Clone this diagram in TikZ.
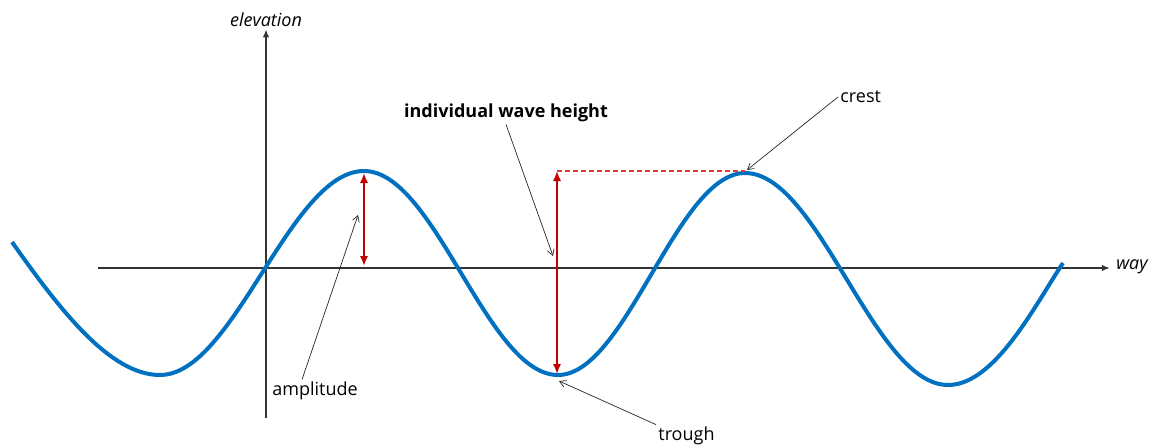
\documentclass[tikz,border=0pt]{standalone}
\usepackage{fontspec}
\setmainfont{Open Sans}
\usepackage{xcolor}
\usepackage{tikz}
\usetikzlibrary{arrows.meta, positioning, calc}
\definecolor{waveblue}{HTML}{0070C0}
\definecolor{cutred}{HTML}{C00000}
\definecolor{dashred}{HTML}{E03C3C}
\definecolor{axisgray}{HTML}{333333}

\begin{document}
\begin{tikzpicture}[x=0.5pt, y=-0.5pt, every node/.style={font=\small, inner sep=1pt},
    axis/.style={axisgray, line width=0.8pt, -{Latex[length=4pt,width=3.2pt]}},
    note/.style={black!85, line width=0.35pt, -{Straight Barb[length=3pt,width=3.5pt]}},
    measure/.style={cutred, line width=1.4pt, {Latex[length=5pt,width=4.2pt]}-{Latex[length=5pt,width=4.2pt]}}]
    \useasboundingbox (0,0) rectangle (1161,445);
    % axes
    \node[font=\small\itshape] (elev) at (266,20) {elevation};
    \node[font=\small\itshape] (way) at (1132,267) {way};
    \coordinate (xstart) at (98,268);
    \coordinate (ybot) at (266,418);
    \draw[axis] (xstart) -- ([xshift=-2pt]xstart -| way.west);
    \draw[axis] (ybot) -- (elev.south);
    % wave
    \draw[waveblue, line width=2pt] (12,242) .. controls (60,310) and (110,375) .. (160,375)
        .. controls (234,375) and (290,171) .. (364,171)
        .. controls (435,171) and (487,375) .. (558,375)
        .. controls (626,375) and (677,173) .. (745,173)
        .. controls (819,173) and (874,385) .. (948,385)
        .. controls (995,385) and (1035,305) .. (1063,263);
    % heights
    \coordinate (c1) at (364,173);
    \coordinate (c1base) at (364,266);
    \coordinate (hTop) at (557,171);
    \coordinate (hBot) at (557,374);
    \coordinate (c2) at (745,171);
    \draw[dashred, line width=0.6pt, dash pattern=on 2.5pt off 1.5pt] (hTop) -- (c2);
    \draw[measure] (c1) -- (c1base);
    \draw[measure] (hTop) -- (hBot);
    % labels
    \node (amp) at (315,391) {amplitude};
    \node[font=\small\bfseries] (hgt) at (506,113) {individual wave height};
    \node[anchor=west] (crest) at (838,97) {crest};
    \node[anchor=west] (trough) at (656,436) {trough};
    \coordinate (ampTip) at (358,215);
    \coordinate (hgtTip) at (553,256);
    \coordinate (crestTip) at (747,170);
    \coordinate (troughTip) at (559,381);
    \draw[note] ([xshift=-6.5pt]amp.north) -- (ampTip);
    \draw[note] (hgt.south) -- (hgtTip);
    \draw[note] (crest.west) -- (crestTip);
    \draw[note] (trough.north west) -- (troughTip);
\end{tikzpicture}
\end{document}
